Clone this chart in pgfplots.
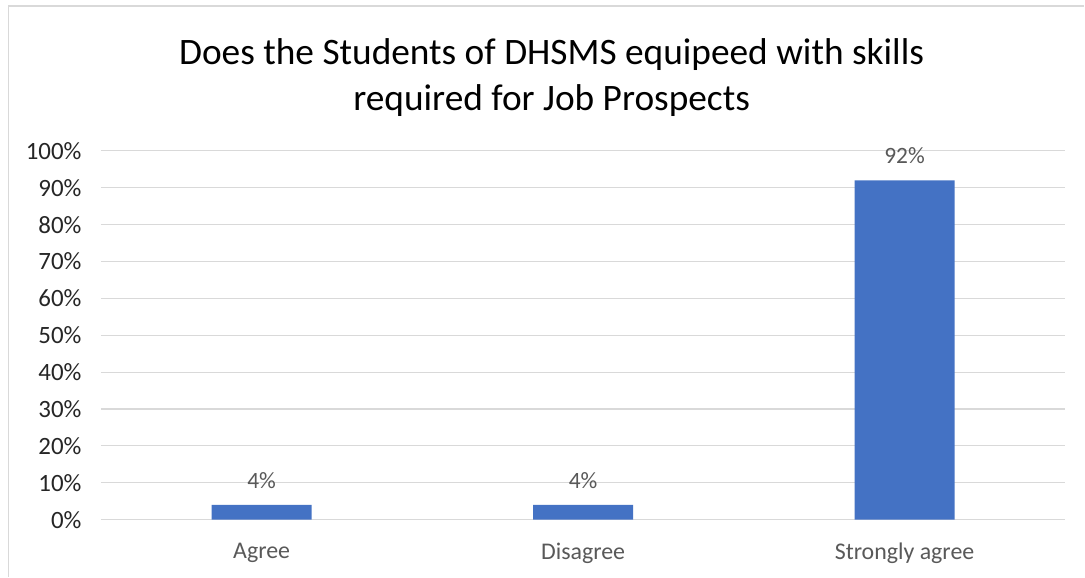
\documentclass[border=0pt]{standalone}
\usepackage{pgfplots}
\pgfplotsset{compat=1.18}
\usepackage{fontspec}
\setmainfont{Carlito}
\definecolor{barblue}{HTML}{4472C4}
\definecolor{gridgray}{HTML}{D9D9D9}
\definecolor{txtgray}{HTML}{595959}
\definecolor{ytxt}{HTML}{262626}
\begin{document}
\begin{tikzpicture}[x=1bp,y=1bp]
\path[fill=white] (0,0) rectangle (1085,577);
\draw[gridgray, line width=1.5bp] (8.5,0) -- (8.5,571) -- (1085,571);
\node[font=\fontsize{37.5}{46}\selectfont, align=center, text=black] at (552,499) {Does the Students of DHSMS equipeed with skills\\required for Job Prospects};
\begin{axis}[
  at={(101bp,57bp)}, anchor=south west,
  scale only axis, width=965bp, height=369bp,
  xmin=-0.5, xmax=2.5, ymin=0, ymax=100,
  xtick=data, xticklabels={Agree,Disagree,Strongly agree},
  ytick={0,10,...,100},
  yticklabel={\pgfmathprintnumber{\tick}\%},
  /pgf/number format/assume math mode=true,
  ymajorgrids, grid style={gridgray, line width=1.2bp},
  axis line style={draw=none},
  major tick length=0pt,
  tick label style={font=\fontsize{24}{28}\selectfont},
  yticklabel style={text=ytxt, xshift=-16bp, font=\fontsize{25}{29}\selectfont},
  xticklabel style={text=txtgray, yshift=-20bp},
  ybar, bar width=100bp,
  nodes near coords={\pgfmathprintnumber{\pgfplotspointmeta}\%},
  nodes near coords style={font=\fontsize{23.5}{27}\selectfont, text=txtgray, yshift=13bp},
  clip=false,
]
\addplot[fill=barblue, draw=none] coordinates {(0,4) (1,4) (2,92)};
\end{axis}
\end{tikzpicture}
\end{document}
